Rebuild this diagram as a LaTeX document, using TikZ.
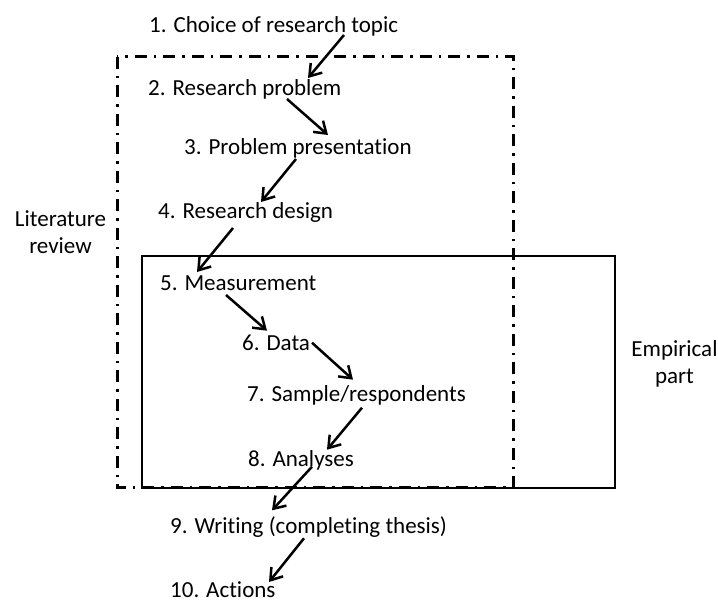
\documentclass[tikz,border=0pt]{standalone}
\usepackage{fontspec}
\setmainfont{Carlito}[RawFeature=-liga]
\usetikzlibrary{arrows.meta, calc}
\tikzstyle{stage} = [anchor=base west, inner sep=0pt, font=\fontsize{23}{27}\selectfont]
\tikzstyle{side} = [anchor=base, inner sep=0pt, align=center, font=\fontsize{23}{27}\selectfont]
\tikzstyle{flow} = [line width=2.5pt]

\begin{document}
\begin{tikzpicture}[x=1pt, y=-1pt, >={Straight Barb[length=11pt,width=15pt]}]
    \useasboundingbox (0,0) rectangle (718,601);
    % regions
    \draw[line width=3pt, dash pattern=on 12pt off 7pt on 2.5pt off 7pt] (117,57) rectangle (513,488);
    \draw[line width=2pt] (142,256) rectangle (615,488);
    \node[side] (lit) at (60.5,253.5) {Literature\\review};
    \node[side] (emp) at (674.5,384) {Empirical\\part};
    % stages
    \node[stage] (c1) at (149,32.5) {1. Choice of research topic};
    \node[stage] (c2) at (148,96) {2. Research problem};
    \node[stage] (c3) at (184,155) {3. Problem presentation};
    \node[stage] (c4) at (158,219) {4. Research design};
    \node[stage] (c5) at (160,291) {5. Measurement};
    \node[stage] (c6) at (242,350.7) {6. Data};
    \node[stage] (c7) at (247,401.7) {7. Sample/respondents};
    \node[stage] (c8) at (248,466.7) {8. Analyses};
    \node[stage] (c9) at (170,533.3) {9. Writing (completing thesis)};
    \node[stage] (c10) at (170,597.5) {10. Actions};
    % arrows
    \draw[flow, ->] ($(c1.base west)+(195,2.5)$) -- ($(c2.base west)+(160,-18)$);
    \draw[flow, ->] ($(c2.base west)+(139,3)$) -- ($(c3.base west)+(144,-20)$);
    \draw[flow, ->] ($(c3.base west)+(112,4)$) -- ($(c4.base west)+(103,-17)$);
    \draw[flow, ->] ($(c4.base west)+(75,9)$) -- ($(c5.base west)+(37,-19)$);
    \draw[flow, ->] ($(c5.base west)+(66,4)$) -- ($(c6.base west)+(25,-20)$);
    \draw[flow, ->] ($(c6.base west)+(70,-8)$) -- ($(c7.base west)+(106,-22)$);
    \draw[flow, ->] ($(c7.base west)+(115,6)$) -- ($(c8.base west)+(79,-17)$);
    \draw[flow, ->] ($(c8.base west)+(64,0)$) -- ($(c9.base west)+(102,-23)$);
    \draw[flow, ->] ($(c9.base west)+(134,5)$) -- ($(c10.base west)+(99,-15.5)$);
\end{tikzpicture}
\end{document}
